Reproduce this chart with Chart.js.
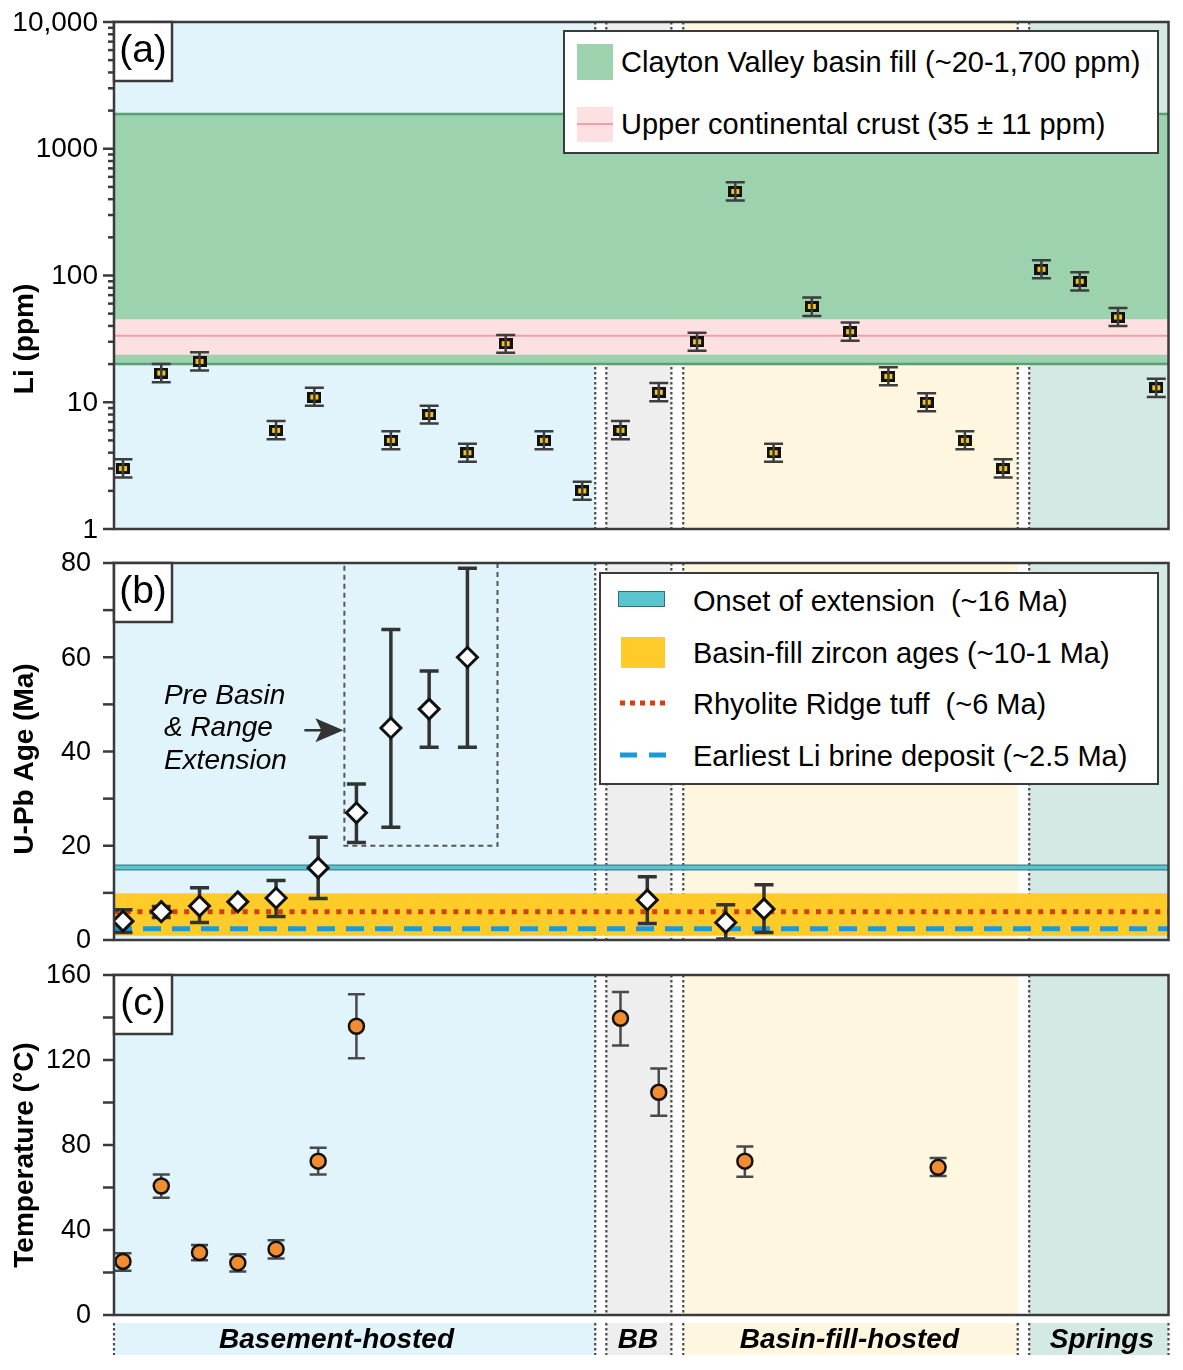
<!DOCTYPE html>
<html>
<head>
<meta charset="utf-8">
<title>Li, U-Pb age and temperature by host type</title>
<script src="https://cdn.jsdelivr.net/npm/chart.js@4.4.1/dist/chart.umd.min.js"></script>
<style>
  body { margin: 0; background: #fff; }
  #fig { position: relative; width: 1183px; height: 1370px; font-family: "Liberation Sans", Arial, sans-serif; color: #000; }
  #fig canvas { position: absolute; left: 0; }
  .legend { position: absolute; background: #fff; border: 2.5px solid #3a3a3a; box-sizing: border-box; }
  .legend .txt { position: absolute; height: 40px; line-height: 40px; font-size: 29px; white-space: pre; }
  .legend .sw { position: absolute; box-sizing: border-box; }
  .legend svg { position: absolute; overflow: visible; }
</style>
</head>
<body>
<div id="fig">
  <canvas id="chart-a" width="1183" height="545" style="top:0;width:1183px;height:545px"></canvas>
  <canvas id="chart-b" width="1183" height="410" style="top:545px;width:1183px;height:410px"></canvas>
  <canvas id="chart-c" width="1183" height="415" style="top:955px;width:1183px;height:415px"></canvas>

  <div class="legend" style="left:563px;top:30px;width:596px;height:124px">
    <div class="sw" style="left:11.5px;top:11.5px;width:36px;height:36px;background:#9dd2ae"></div>
    <div class="txt" style="left:56px;top:9.5px">Clayton Valley basin fill (~20-1,700 ppm)</div>
    <div class="sw" style="left:11.5px;top:74.5px;width:36px;height:35px;background:#fde1e2"></div>
    <svg style="left:11.5px;top:91.5px" width="36" height="2"><line x1="0" y1="0" x2="36" y2="0" stroke="#f0a0a6" stroke-width="2"/></svg>
    <div class="txt" style="left:56px;top:71.5px">Upper continental crust (35 ± 11 ppm)</div>
  </div>

  <div class="legend" style="left:599px;top:572px;width:560px;height:213px">
    <div class="sw" style="left:16.5px;top:16.5px;width:47px;height:16px;background:#5ac4cf;border:1.5px solid #2f6f78"></div>
    <div class="txt" style="left:92px;top:6.5px">Onset of extension  (~16 Ma)</div>
    <div class="sw" style="left:19.5px;top:62.5px;width:44px;height:31px;background:#ffcb29"></div>
    <div class="txt" style="left:92px;top:58.5px">Basin-fill zircon ages (~10-1 Ma)</div>
    <svg style="left:18.5px;top:128.5px" width="50" height="2"><line x1="0" y1="0" x2="50" y2="0" stroke="#d2400d" stroke-width="5" stroke-dasharray="5 5"/></svg>
    <div class="txt" style="left:92px;top:109.5px">Rhyolite Ridge tuff  (~6 Ma)</div>
    <svg style="left:18.5px;top:180.5px" width="48" height="2"><line x1="0" y1="0" x2="48" y2="0" stroke="#1a9ad8" stroke-width="5" stroke-dasharray="17 12"/></svg>
    <div class="txt" style="left:92px;top:161.5px">Earliest Li brine deposit (~2.5 Ma)</div>
  </div>
</div>

<script>
const FONT = '"Liberation Sans", Arial, sans-serif'

// shared x axis: one slot per sample, grouped by host type
const xMin = -0.235
const xMax = 27.32
const regionNames = ['Basement-hosted', 'BB', 'Basin-fill-hosted', 'Springs']
const regionStart = [-0.235, 12.63, 14.64, 23.68]
const regionEnd = [12.34, 14.33, 23.38, 27.32]
const regionLabelAt = [5.58, 13.46, 18.98, 25.58]
const regionColors = ['#e1f4fb', '#eeeeee', '#fef6df', '#d4e9e3']

// (a) Li (ppm)
const liX = [0, 1, 2, 4, 5, 7, 8, 9, 10, 11, 12, 13, 14, 15, 16, 17, 18, 19, 20, 21, 22, 23, 24, 25, 26, 27]
const liPpm = [3, 17, 21, 6, 11, 5, 8, 4, 29, 5, 2, 6, 12, 30, 460, 4, 57, 36, 16, 10, 5, 3, 112, 90, 47, 13]
const liLow = [2.55, 14.4, 17.8, 5.1, 9.4, 4.25, 6.8, 3.4, 24.6, 4.25, 1.7, 5.1, 10.2, 25.5, 390, 3.4, 48, 30.5, 13.6, 8.5, 4.25, 2.55, 95, 76, 40, 11]
const liHigh = [3.55, 20, 24.8, 7.1, 13, 5.9, 9.4, 4.7, 34, 5.9, 2.36, 7.1, 14.2, 35.4, 543, 4.7, 67, 42.5, 18.9, 11.8, 5.9, 3.55, 132, 106, 55.5, 15.3]
const liTicks = [1, 10, 100, 1000, 10000]
const liTickLabels = ['1', '10', '100', '1000', '10,000']
const basinFillLi = [20, 1880]
const crustLi = [23.7, 45.2]
const crustLiMean = 33.5

// (b) U-Pb age (Ma)
const ageX = [0, 1, 2, 3, 4, 5.1, 6.1, 7, 8, 9, 13.7, 15.75, 16.75]
const ageMa = [4, 6, 7.2, 8.1, 8.9, 15.3, 27, 45, 49, 60, 8.5, 3.7, 6.6]
const ageLow = [1.6, 4.8, 3.7, 8.1, 5, 8.8, 20.7, 23.9, 40.9, 40.9, 3.5, 0.2, 1.6]
const ageHigh = [6.4, 7.1, 11.1, 8.1, 12.6, 21.8, 33.1, 65.9, 57.1, 78.9, 13.4, 7.5, 11.7]
const ageTicks = [0, 20, 40, 60, 80]
const onsetAge = [14.9, 15.9]
const zirconAge = [0.9, 9.9]
const tuffAge = 6
const brineAge = 2.4
const preBasinBox = [5.785, 9.786, 20, 80]
const preBasinText = ['Pre Basin', '& Range', 'Extension']

// (c) Temperature (°C)
const tempX = [0, 1, 2, 3, 4, 5.1, 6.1, 13, 14, 16.25, 21.3]
const tempC = [25.2, 60.7, 29.4, 24.5, 31, 72.4, 135.9, 139.6, 104.8, 72.4, 69.5]
const tempLow = [20.8, 55.2, 25.8, 20.5, 26.6, 66.1, 120.8, 126.8, 93.8, 65.1, 65.4]
const tempHigh = [29.1, 66.1, 33, 28.6, 35.2, 78.7, 151, 152, 116, 79.3, 73.9]
const tempTicks = [0, 40, 80, 120, 160]

const pts = (xs, ys, lo, hi) => xs.map((x, i) => ({ x: x, y: ys[i], lo: lo[i], hi: hi[i] }))

function liMarker() {
    const c = document.createElement('canvas')
    c.width = 14
    c.height = 11
    const g = c.getContext('2d')
    g.fillStyle = '#111'
    g.fillRect(0, 0, 14, 11)
    g.fillStyle = '#f5c31a'
    g.fillRect(3, 3, 8, 5)
    return c
}

function dottedV(ctx, xs, top, bottom) {
    ctx.save()
    ctx.strokeStyle = '#4a4a4a'
    ctx.lineWidth = 2.2
    ctx.setLineDash([2.5, 2.5])
    xs.forEach(px => {
        ctx.beginPath()
        ctx.moveTo(px, top)
        ctx.lineTo(px, bottom)
        ctx.stroke()
    })
    ctx.restore()
}

function hLine(ctx, a, py, color, width, dash) {
    ctx.save()
    ctx.strokeStyle = color
    ctx.lineWidth = width
    ctx.setLineDash(dash || [])
    ctx.beginPath()
    ctx.moveTo(a.left, py)
    ctx.lineTo(a.right, py)
    ctx.stroke()
    ctx.restore()
}

function errorBars(chart, ds) {
    const { ctx, scales: { x, y } } = chart
    ctx.save()
    ctx.strokeStyle = ds.errColor
    ctx.lineWidth = ds.errWidth
    ds.data.forEach(p => {
        if (!(p.hi > p.lo)) return
        const px = x.getPixelForValue(p.x)
        const y0 = y.getPixelForValue(p.lo)
        const y1 = y.getPixelForValue(p.hi)
        const h = ds.errCap / 2
        ctx.beginPath()
        ctx.moveTo(px, y0)
        ctx.lineTo(px, y1)
        ctx.moveTo(px - h, y0)
        ctx.lineTo(px + h, y0)
        ctx.moveTo(px - h, y1)
        ctx.lineTo(px + h, y1)
        ctx.stroke()
    })
    ctx.restore()
}

const decor = {
    id: 'decor',
    beforeDatasetsDraw(chart, args, o) {
        const { ctx, chartArea: a, scales: { x, y } } = chart
        ctx.save()
        ctx.beginPath()
        ctx.rect(a.left, a.top, a.right - a.left, a.bottom - a.top)
        ctx.clip()
        regionStart.forEach((s, i) => {
            const x0 = x.getPixelForValue(s)
            const x1 = x.getPixelForValue(regionEnd[i])
            ctx.fillStyle = regionColors[i]
            ctx.fillRect(x0, a.top, x1 - x0, a.bottom - a.top)
        })
        dottedV(ctx, o.seps.map(v => x.getPixelForValue(v)), a.top, a.bottom)
        o.bands.forEach(b => {
            const y0 = y.getPixelForValue(b.lo)
            const y1 = y.getPixelForValue(b.hi)
            ctx.fillStyle = b.fill
            ctx.fillRect(a.left, y1, a.right - a.left, y0 - y1)
            if (b.edge) {
                hLine(ctx, a, y0, b.edge, b.edgeWidth)
                hLine(ctx, a, y1, b.edge, b.edgeWidth)
            }
        })
        o.lines.forEach(l => hLine(ctx, a, y.getPixelForValue(l.value), l.color, l.width, l.dash))
        if (o.extra) o.extra(chart)
        ctx.restore()
        chart.data.datasets.forEach(ds => { if (!ds.errOnTop) errorBars(chart, ds) })
    },
    afterDatasetsDraw(chart) {
        chart.data.datasets.forEach(ds => { if (ds.errOnTop) errorBars(chart, ds) })
    },
    afterDraw(chart, args, o) {
        const { ctx, chartArea: a, scales: { x, y } } = chart
        ctx.save()
        // tick marks from the scale's own ticks
        ctx.strokeStyle = '#3a3a3a'
        ctx.lineWidth = 2.5
        y.ticks.forEach(t => {
            const py = y.getPixelForValue(t.value)
            const len = o.tickLen(t.value)
            ctx.beginPath()
            ctx.moveTo(a.left - len, py)
            ctx.lineTo(a.left, py)
            ctx.stroke()
        })
        // tick labels
        ctx.fillStyle = '#000'
        ctx.font = `${o.labels.size}px ${FONT}`
        ctx.textAlign = 'right'
        ctx.textBaseline = 'middle'
        o.labels.values.forEach((v, i) => ctx.fillText(o.labels.texts[i], a.left - o.labels.pad, y.getPixelForValue(v) + 1))
        // frame
        ctx.strokeRect(a.left, a.top, a.right - a.left, a.bottom - a.top)
        // panel letter
        ctx.fillStyle = '#fff'
        ctx.fillRect(a.left, a.top, 58, 59)
        ctx.strokeRect(a.left, a.top, 58, 59)
        ctx.fillStyle = '#000'
        ctx.font = `39px ${FONT}`
        ctx.textAlign = 'center'
        ctx.fillText(o.letter, a.left + 29, a.top + 29)
        // axis title
        ctx.save()
        ctx.translate(o.title.x, o.title.y)
        ctx.rotate(-Math.PI / 2)
        ctx.font = `bold 28px ${FONT}`
        ctx.fillText(o.title.text, 0, 0)
        ctx.restore()
        // host-type strip under the last panel
        if (o.strip) {
            const top = a.bottom + 8
            const h = 32
            regionStart.forEach((s, i) => {
                const x0 = x.getPixelForValue(s)
                const x1 = x.getPixelForValue(regionEnd[i])
                ctx.fillStyle = regionColors[i]
                ctx.fillRect(x0, top, x1 - x0, h)
            })
            dottedV(ctx, regionStart.concat(regionEnd).map(v => x.getPixelForValue(v)), top, top + h)
            ctx.fillStyle = '#000'
            ctx.font = `italic bold 28px ${FONT}`
            regionNames.forEach((n, i) => ctx.fillText(n, x.getPixelForValue(regionLabelAt[i]), top + h / 2 + 1))
        }
        ctx.restore()
    }
}

function panel(id, dataset, yScale, padding, decorOpts) {
    return new Chart(document.getElementById(id), {
        type: 'scatter',
        data: { datasets: [dataset] },
        options: {
            responsive: false,
            animation: false,
            events: [],
            layout: { padding: padding },
            plugins: { legend: { display: false }, tooltip: { enabled: false }, decor: decorOpts },
            scales: {
                x: { type: 'linear', min: xMin, max: xMax, display: false },
                y: Object.assign({
                    afterFit: s => { s.width = 114 },
                    grid: { display: false, drawTicks: false },
                    border: { display: false }
                }, yScale)
            }
        },
        plugins: [decor]
    })
}

Chart.defaults.font.family = FONT
Chart.defaults.color = '#000'

// (a)
panel('chart-a', {
    data: pts(liX, liPpm, liLow, liHigh),
    pointStyle: liMarker(),
    pointRadius: 7,
    errColor: '#3d3d3d', errWidth: 2.5, errCap: 19, errOnTop: true
}, {
    type: 'logarithmic', min: 1, max: 10000,
    afterBuildTicks: s => {
        const t = []
        liTicks.forEach((d, i) => {
            t.push({ value: d })
            if (i < liTicks.length - 1) for (let m = 2; m <= 9; m++) t.push({ value: m * d })
        })
        s.ticks = t
    },
    ticks: { display: false }
}, { top: 22, right: 14.5, bottom: 16, left: 0 }, {
    seps: [12.34, 12.63, 14.33, 14.64, 23.38, 23.68],
    bands: [
        { lo: basinFillLi[0], hi: basinFillLi[1], fill: '#9dd2ae', edge: '#5a9e74', edgeWidth: 2.5 },
        { lo: crustLi[0], hi: crustLi[1], fill: '#fde1e2' }
    ],
    lines: [{ value: crustLiMean, color: '#f0a0a6', width: 2 }],
    tickLen: v => liTicks.includes(v) ? 11 : 6,
    labels: { values: liTicks, texts: liTickLabels, pad: 16, size: 28 },
    letter: '(a)',
    title: { text: 'Li (ppm)', x: 25, y: 339 }
})

// (b)
panel('chart-b', {
    data: pts(ageX, ageMa, ageLow, ageHigh),
    pointStyle: 'rectRot',
    pointRadius: 10,
    backgroundColor: '#fff', borderColor: '#111', borderWidth: 3,
    errColor: '#333', errWidth: 3.5, errCap: 19
}, {
    type: 'linear', min: 0, max: 80,
    ticks: { display: false, stepSize: 10 }
}, { top: 18, right: 14.5, bottom: 15, left: 0 }, {
    seps: [12.34, 12.63, 14.33, 14.64, 23.68],
    bands: [
        { lo: onsetAge[0], hi: onsetAge[1], fill: '#5ac4cf', edge: '#3b7f8a', edgeWidth: 1.2 },
        { lo: zirconAge[0], hi: zirconAge[1], fill: '#ffcb29' }
    ],
    lines: [
        { value: tuffAge, color: '#d2400d', width: 5, dash: [5, 6.7] },
        { value: brineAge, color: '#1a9ad8', width: 5, dash: [18, 11] }
    ],
    extra: chart => {
        const { ctx, scales: { x, y } } = chart
        const bx0 = x.getPixelForValue(preBasinBox[0])
        const bx1 = x.getPixelForValue(preBasinBox[1])
        const by0 = y.getPixelForValue(preBasinBox[2])
        const by1 = y.getPixelForValue(preBasinBox[3])
        ctx.save()
        ctx.strokeStyle = '#555'
        ctx.lineWidth = 2
        ctx.setLineDash([5, 4])
        ctx.strokeRect(bx0, by1, bx1 - bx0, by0 - by1)
        ctx.setLineDash([])
        // arrow pointing to the box
        const ay = y.getPixelForValue(44.5)
        const tip = bx0 - 1
        ctx.strokeStyle = '#333'
        ctx.lineWidth = 2.5
        ctx.beginPath()
        ctx.moveTo(tip - 39, ay)
        ctx.lineTo(tip - 20, ay)
        ctx.stroke()
        ctx.fillStyle = '#333'
        ctx.beginPath()
        ctx.moveTo(tip, ay)
        ctx.lineTo(tip - 28, ay - 12)
        ctx.lineTo(tip - 22, ay)
        ctx.lineTo(tip - 28, ay + 12)
        ctx.closePath()
        ctx.fill()
        ctx.fillStyle = '#000'
        ctx.font = `italic 28px ${FONT}`
        ctx.textAlign = 'left'
        ctx.textBaseline = 'middle'
        const tx = x.getPixelForValue(1.07)
        ;[51.8, 45, 38].forEach((v, i) => ctx.fillText(preBasinText[i], tx, y.getPixelForValue(v)))
        ctx.restore()
    },
    tickLen: () => 11,
    labels: { values: ageTicks, texts: ageTicks.map(String), pad: 23, size: 27 },
    letter: '(b)',
    title: { text: 'U-Pb Age (Ma)', x: 25, y: 214 }
})

// (c)
panel('chart-c', {
    data: pts(tempX, tempC, tempLow, tempHigh),
    pointStyle: 'circle',
    pointRadius: 7.5,
    backgroundColor: '#f28c31', borderColor: '#111', borderWidth: 2.5,
    errColor: '#4a4a4a', errWidth: 2.5, errCap: 17
}, {
    type: 'linear', min: 0, max: 160,
    ticks: { display: false, stepSize: 20 }
}, { top: 20, right: 14.5, bottom: 55, left: 0 }, {
    seps: [12.34, 12.63, 14.33, 14.64, 23.68],
    bands: [],
    lines: [],
    tickLen: () => 11,
    labels: { values: tempTicks, texts: tempTicks.map(String), pad: 23, size: 27 },
    letter: '(c)',
    title: { text: 'Temperature (°C)', x: 25, y: 200 },
    strip: true
})
</script>
</body>
</html>
